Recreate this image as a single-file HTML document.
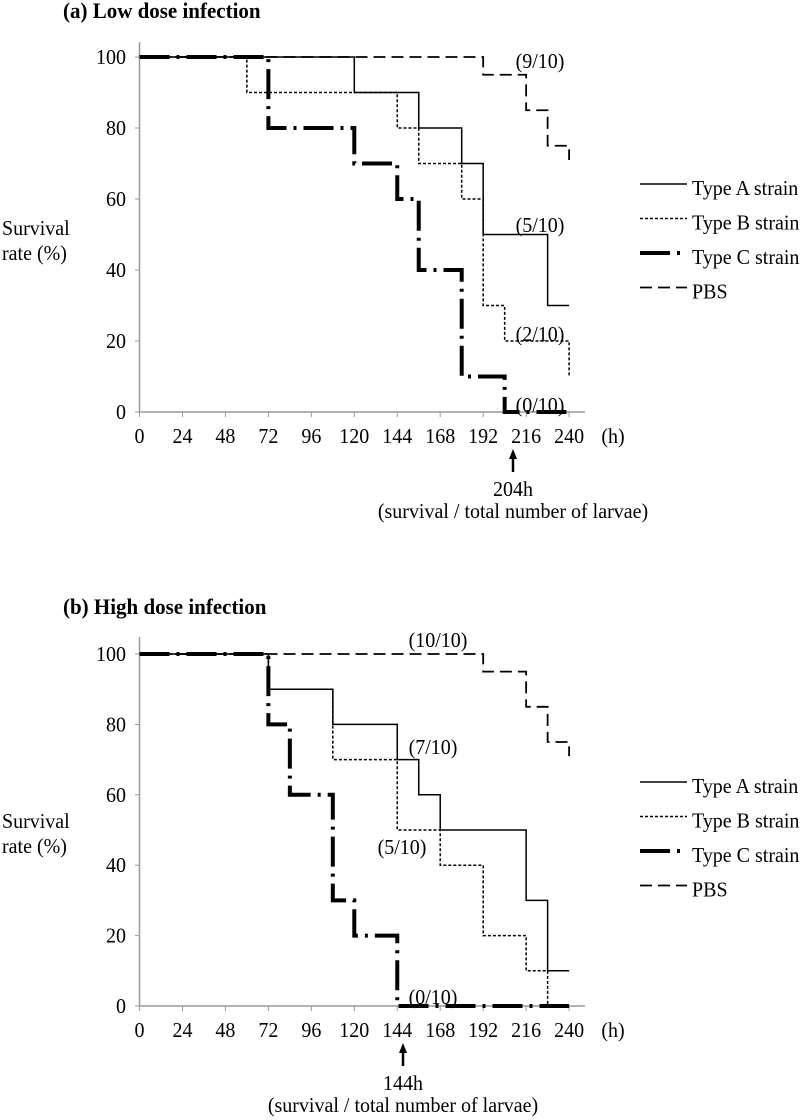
<!DOCTYPE html>
<html><head><meta charset="utf-8"><style>
body{margin:0;background:#fff;}
svg{display:block;font-family:"Liberation Serif",serif;}
</style></head><body>
<svg id="chart" width="800" height="1120"></svg>
<script>
const hours=[0,24,48,72,96,120,144,168,192,216,240];
const yTicks=[0,20,40,60,80,100];
const seriesNames=["Type A strain","Type B strain","Type C strain","PBS"];
// Panel a (low dose)
const aA_t=[0,120,156,180,192,228,240]; const aA_v=[100,90,80,70,50,30,30];
const aB_t=[0,60,144,156,180,192,204,240]; const aB_v=[100,90,80,70,60,30,20,10];
const aC_t=[0,72,120,144,156,180,204,240]; const aC_v=[100,80,70,60,40,10,0,0];
const aP_t=[0,192,216,228,240]; const aP_v=[100,95,85,75,71];
const aLabels=["(9/10)","(5/10)","(2/10)","(0/10)"];
// Panel b (high dose)
const bA_t=[0,72,108,144,156,168,216,228,240]; const bA_v=[100,90,80,70,60,50,30,10,10];
const bB_t=[0,72,108,144,168,192,216,228,240]; const bB_v=[100,90,70,50,40,20,10,0,0];
const bC_t=[0,72,84,108,120,144,240]; const bC_v=[100,80,60,30,20,0,0];
const bP_t=[0,192,216,228,240]; const bP_v=[100,95,85,75,71];
const bLabels=["(10/10)","(7/10)","(5/10)","(0/10)"];

const NS="http://www.w3.org/2000/svg";
const svg=document.getElementById('chart');
const SY=1.04;
function el(tag,attrs,parent,text){const e=document.createElementNS(NS,tag);for(const k in attrs)e.setAttribute(k,attrs[k]);if(text!==undefined)e.textContent=text;(parent||svg).appendChild(e);return e;}
function T(parent,px,py,size,str,anchor,bold){
 return el('text',{x:0,y:0,'font-size':size,'text-anchor':anchor||'start','font-weight':bold?'bold':'normal',transform:'translate('+px+','+py+') scale(1,'+SY+')'},parent,str);
}
const styles=[
 {w:1.5,d:"none"},
 {w:1.5,d:"3 2"},
 {w:4,d:"30 7 3 7"},
 {w:1.8,d:"12 6"}
];
function x(t){return 139.5+t*1.79;}
function panel(cfg){
 const y=v=>cfg.y0-v*cfg.k;
 const g=el('g',{});
 
 
 let t=T(g,63,cfg.titleY,21,cfg.title,'start',true);
 
 
 let ax=el('line',{x1:139.5,y1:cfg.top,x2:139.5,y2:y(0),stroke:'#999','stroke-width':1.5},g);
 
 
 let xa=el('line',{x1:139.5,y1:y(0),x2:585,y2:y(0),stroke:'#999','stroke-width':1.5},g);
 
 
 yTicks.forEach(v=>{
  el('line',{x1:135,y1:y(v),x2:139.5,y2:y(v),stroke:'#999'},g);
  let l=T(g,126,y(v)+7,20,String(v),'end');
  
  
 });
 hours.forEach(h=>{
  el('line',{x1:x(h),y1:y(0),x2:x(h),y2:y(0)+5,stroke:'#999'},g);
  let l=T(g,x(h),y(0)+31,20,String(h),'middle');
  
  
 });
 let hu=T(g,613,y(0)+31,20,'(h)','middle');
 
 
 let yl1=T(g,2,cfg.ylY+3,20,'Survival','start');
 
 
 let yl2=T(g,2,cfg.ylY+28,20,'rate (%)','start');
 
 
 [3,1,0,2].forEach(i=>{
  const ts=cfg.series[i][0], vs=cfg.series[i][1];
  let d='M'+x(ts[0])+','+y(vs[0]);
  for(let j=0;j<ts.length-1;j++){d+=' L'+x(ts[j+1])+','+y(vs[j])+' L'+x(ts[j+1])+','+y(vs[j+1]);}
  const p=el('path',{d:d,fill:'none',stroke:'#000','stroke-width':styles[i].w,'stroke-dasharray':styles[i].d},g);
  
  
 });
 cfg.labels.forEach((s,i)=>{
  const l=T(g,cfg.lab[i][0],cfg.lab[i][1]+7,20,s,'middle');
  
  
 });
 seriesNames.forEach((s,i)=>{
  const ly=cfg.legY+i*34.5;
  const lg=el('g',{},g);
  
  
  el('line',{x1:640,y1:ly-4,x2:687,y2:ly-4,stroke:'#000','stroke-width':styles[i].w,'stroke-dasharray':styles[i].d},lg);
  T(lg,692,ly+7,20,s,'start');
 });
 const ar=el('g',{},g);
 
 
 el('line',{x1:cfg.arX,y1:y(0)+60,x2:cfg.arX,y2:y(0)+44,stroke:'#000','stroke-width':2.5},ar);
 el('polygon',{points:(cfg.arX-4)+','+(y(0)+47)+' '+(cfg.arX+4)+','+(y(0)+47)+' '+cfg.arX+','+(y(0)+37)},ar);
 T(ar,cfg.arX,y(0)+84,20,cfg.arText,'middle');
 T(ar,cfg.arX,y(0)+106,20,'(survival / total number of larvae)','middle');
}
panel({name:'panel-a-low-dose',title:'(a) Low dose infection',titleY:18,y0:412,k:3.55,top:42,ylY:232,
 series:[[aA_t,aA_v],[aB_t,aB_v],[aC_t,aC_v],[aP_t,aP_v]],labels:aLabels,
 lab:[[540,61],[540,225],[540,334],[540,405]],legY:188,arX:513,arText:'204h'});
panel({name:'panel-b-high-dose',title:'(b) High dose infection',titleY:614,y0:1006,k:3.52,top:637,ylY:825,
 series:[[bA_t,bA_v],[bB_t,bB_v],[bC_t,bC_v],[bP_t,bP_v]],labels:bLabels,
 lab:[[438,640],[433,747],[402,847],[433,997]],legY:786,arX:403,arText:'144h'});
</script>
</body></html>
